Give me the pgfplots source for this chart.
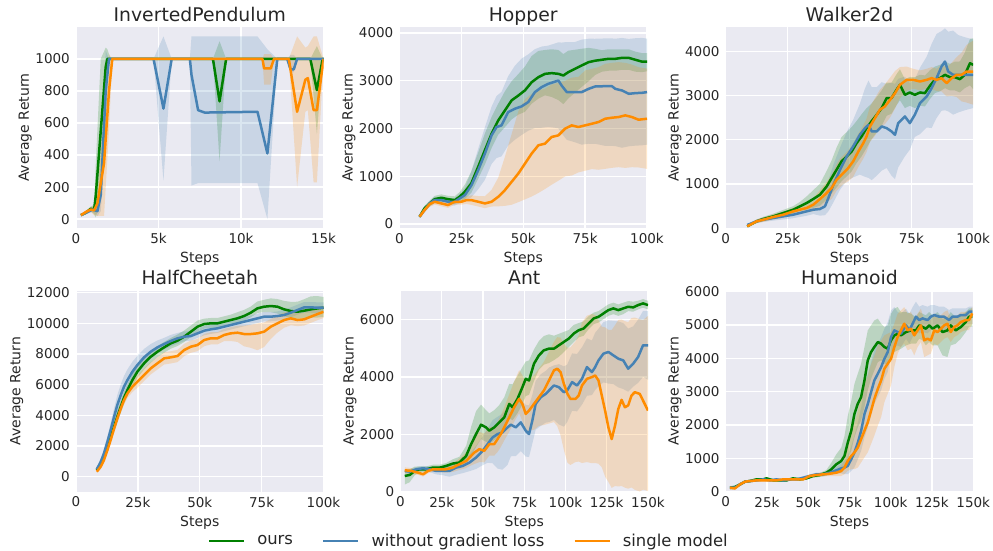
\documentclass[border=0pt]{standalone}
\usepackage{fontspec}
\setmainfont{DejaVu Sans}
\usepackage{pgfplots}
\usepackage{pgfplotstable}
\pgfplotsset{compat=1.18}
\definecolor{sbbg}{RGB}{234,234,242}
\definecolor{sbtext}{RGB}{38,38,38}
\definecolor{cgreen}{RGB}{0,128,0}
\definecolor{cblue}{RGB}{70,130,180}
\definecolor{corange}{RGB}{255,140,0}

\pgfplotsset{
  sbstyle/.style={
    scale only axis, width=247.5pt, height=201pt,
    axis background/.style={fill=sbbg},
    axis line style={draw=none},
    tick style={draw=none},
    major tick length=0pt,
    grid=major,
    major grid style={white, line width=1.4pt},
    ticklabel style={font=\fontsize{13.5}{14}\selectfont, text=sbtext},
    /pgf/number format/assume math mode=true,
    /pgf/number format/1000 sep={},
    scaled ticks=false,
    title style={font=\fontsize{18.8}{20}\selectfont, text=sbtext, at={(0.5,1)}, anchor=base, yshift=0pt},
    label style={font=\fontsize{14}{15}\selectfont, text=sbtext},
    xlabel style={yshift=-5pt},
    xlabel={Steps}, ylabel={Average Return},
    xticklabel style={inner sep=0pt, anchor=north, yshift=-5pt},
    yticklabel style={inner sep=0pt, anchor=east, xshift=-6pt},
  }
}
% build a closed polygon table: upper edge forward, lower edge backward
\newcommand{\mkpoly}[2]{%
  \pgfplotstablesort[sort key=x, sort cmp=float <]{#2}{#1}%
  \pgfplotstablecreatecol[expr={\thisrow{y}+\thisrow{du}}]{yb}{#2}%
  \pgfplotstablesort[sort key=x, sort cmp=float >]{\tmpR}{#1}%
  \pgfplotstablecreatecol[expr={\thisrow{y}-\thisrow{dl}}]{yb}{\tmpR}%
  \pgfplotstablevertcat{#2}{\tmpR}%
}
\newcommand{\band}[2]{\addplot[fill=#2, fill opacity=0.2, draw=none, forget plot] table[x=x, y=yb] {#1};}
\newcommand{\curve}[2]{\addplot[#2, line width=2.5pt, forget plot, line join=round] table[x=x,y=y] {#1};}

% ---------------- InvertedPendulum
\pgfplotstableread{
x y dl du
0.3 25 5 5
0.6 40 10 10
0.9 65 15 15
1.1 60 30 30
1.2 150 140 200
1.5 550 400 450
1.8 950 400 120
1.9 1000 100 60
2.1 1000 0 0
8.3 1000 0 0
8.7 735 375 375
9.1 1000 0 0
14.2 1000 0 0
14.6 805 275 275
14.95 1000 0 0
15 1000 0 0
}\ipG
\pgfplotstableread{
x y dl du
0.3 25 5 5
0.6 40 10 10
1.0 60 15 15
1.3 50 30 30
1.5 150 100 100
1.8 800 300 250
2.0 1000 0 0
4.7 1000 0 0
5.3 690 450 450
5.8 1000 0 0
6.9 1000 0 0
7.0 900 690 240
7.4 680 455 460
7.8 665 440 475
11.0 670 445 470
11.6 410 410 650
12.2 1000 0 0
12.8 1000 0 0
13.0 935 20 90
13.2 935 20 90
13.4 1000 0 0
15 1000 0 0
}\ipB
\pgfplotstableread{
x y dl du
0.3 25 5 5
0.6 45 10 10
0.9 60 15 15
1.1 55 30 30
1.3 100 80 80
1.7 350 330 300
2.0 800 250 230
2.2 1000 0 0
11.3 1000 0 0
11.4 940 100 90
11.8 940 100 90
12.0 1000 0 0
12.9 1000 0 0
13.4 670 470 470
13.9 870 200 200
14.05 880 200 200
14.4 680 450 460
14.6 680 450 460
15 1000 0 0
}\ipO

% ---------------- Hopper
\pgfplotstableread{
x y dl du
8.1 153 30 30
10.1 327 50 50
12.2 430 60 60
14.2 520 70 70
16.9 550 70 70
19.6 520 70 70
22.3 500 80 80
24.3 570 100 100
26.4 675 150 150
29.0 850 200 250
31.8 1200 250 300
34.5 1545 300 350
37.2 1890 300 350
39.9 2170 300 350
42.6 2380 350 400
45.3 2590 400 400
48.0 2690 400 450
50.7 2800 450 500
53.4 2970 450 550
56.1 3075 450 550
58.8 3145 450 500
61.5 3160 500 500
64.2 3145 550 500
66.2 3110 600 450
68.2 3180 550 450
70.9 3250 500 400
73.6 3320 450 350
76.4 3390 400 300
79.0 3420 300 250
81.8 3440 250 200
84.5 3460 250 200
87.2 3460 250 200
89.9 3480 250 180
92.6 3480 250 180
95.3 3440 250 170
98.0 3400 220 180
100 3400 200 180
}\hoG
\pgfplotstableread{
x y dl du
8.1 153 30 30
10.1 292 50 50
12.2 430 60 60
14.2 500 70 70
16.9 500 70 70
19.6 466 70 70
22.3 466 80 80
24.3 535 100 100
26.4 605 120 150
29.1 814 250 300
31.8 1127 400 450
34.5 1475 550 550
37.2 1857 600 600
39.2 2031 650 650
41.2 2066 650 700
43.9 2344 700 750
46.6 2414 650 900
49.3 2463 600 1000
52.0 2553 600 1000
54.7 2762 750 900
57.4 2866 850 850
60.1 2936 900 800
64.2 3005 1000 800
65.5 2900 1000 900
67.6 2762 1000 1050
70.9 2762 1050 1050
73.6 2762 1100 1100
76.4 2831 1150 1050
79.0 2880 1200 1000
83.1 2887 1250 1000
85.8 2887 1250 1000
87.2 2831 1200 1050
89.9 2797 1200 1100
92.6 2727 1100 1150
95.3 2741 1100 1150
98.0 2748 1100 1150
100 2762 1100 1120
}\hoB
\pgfplotstableread{
x y dl du
8.1 153 30 30
10.1 292 50 50
12.2 417 60 60
14.2 466 60 60
16.9 431 60 60
19.6 397 60 60
22.3 466 60 60
25 466 60 60
27 500 80 80
29.1 500 100 100
31.8 466 100 120
34.5 431 100 150
37.2 466 100 250
39.9 570 200 400
42.6 710 330 700
45.3 883 480 1000
48.0 1057 600 1300
50.7 1266 750 1350
53.4 1475 900 1250
56.1 1649 1000 1150
58.8 1683 950 1150
61.5 1823 1000 1100
64.2 1857 950 1100
66.9 1997 1000 1000
69.6 2066 1050 1000
72.3 2031 950 1050
75 2066 950 1150
77.7 2100 950 1150
80.4 2136 1000 1150
83.1 2205 1050 1150
85.8 2226 1050 1150
88.5 2240 1050 1150
91.2 2275 1100 1100
93.9 2240 1050 1100
96.6 2184 1000 1100
100 2205 1050 1050
}\hoO

% ---------------- Walker2d
\pgfplotstableread{
x y dl du
8.7 45 20 20
12.5 158 40 40
15.2 210 50 50
19.2 270 60 60
23.3 346 70 70
27.3 421 80 80
30 496 100 100
32.7 571 150 150
35.4 662 200 200
38.1 760 250 250
40.8 947 300 350
42.8 1135 350 400
44.8 1323 400 500
46.8 1511 450 550
48.9 1624 450 550
50.9 1737 450 550
52.9 1925 450 500
54.9 2075 450 500
56.9 2263 450 450
58.9 2414 400 400
61 2564 400 400
63 2714 400 400
65 2940 400 350
67 2940 350 350
69 3128 350 350
70.4 3241 350 350
72.4 3015 300 350
74.4 3068 300 350
76.4 3015 300 400
78.5 3068 300 400
80.5 3053 300 400
82.5 3218 300 350
84.5 3353 300 300
86.5 3391 300 300
88.6 3466 300 300
90.6 3414 300 300
92.6 3414 300 350
94.6 3368 300 400
96.6 3466 300 500
98.7 3729 500 550
100 3692 550 600
}\waG
\pgfplotstableread{
x y dl du
8.7 75 20 20
12.5 158 40 40
15.2 195 50 50
19.2 233 60 60
23.3 271 70 70
27.3 308 80 80
30 346 90 90
32.7 383 100 100
35.4 421 100 150
38.1 436 150 200
40.1 496 200 300
41.5 684 300 400
43.5 985 400 450
46.2 1323 450 500
48.9 1624 550 550
51.5 1850 700 600
54.2 2113 900 700
56.3 2263 1100 900
57.7 2338 1200 1000
59 2188 1100 1000
61 2188 1000 1000
63 2301 1000 1000
65 2263 900 1000
67 2188 1000 1100
68.4 2113 1000 1150
69.7 2376 1000 1000
72.4 2526 900 900
74.4 2376 600 900
76.4 2564 500 800
78.5 2827 700 800
81.2 2977 700 900
83.2 3165 900 1000
85.2 3391 900 1000
87.2 3654 1000 800
88.6 3767 1100 750
89.9 3541 900 900
91.9 3466 900 1000
93.9 3466 850 900
96.6 3466 800 850
100 3466 750 800
}\waB
\pgfplotstableread{
x y dl du
8.7 45 20 20
12.5 158 40 40
15.2 195 50 50
19.2 256 60 60
23.3 308 70 70
27.3 383 80 80
30 421 100 100
32.7 459 100 100
35.4 534 150 150
38.1 662 200 200
40.8 797 200 250
42.8 910 250 300
44.8 1098 250 350
46.2 1173 250 400
47.5 1248 250 400
49.5 1361 300 400
51.5 1511 350 400
53.6 1737 350 400
55.6 1925 350 400
56.9 2075 350 400
58.3 2301 350 450
60.3 2489 400 450
62.3 2677 400 450
64.3 2752 400 500
66.4 2902 400 500
68.4 3053 350 500
70.4 3241 300 400
73.1 3353 250 300
75.8 3353 200 250
78.5 3316 200 250
81.2 3353 200 250
83.2 3391 250 250
85.2 3353 250 250
87.2 3391 300 300
89.3 3278 300 350
91.3 3391 400 350
93.3 3466 500 400
95.3 3466 600 500
97.3 3541 700 600
100 3541 750 700
}\waO

% ---------------- HalfCheetah
\pgfplotstableread{
x y dl du
8.4 435 100 100
10 870 150 150
11.3 1304 200 200
12.7 1957 250 250
14 2609 300 300
15.4 3261 350 350
16.7 3913 400 400
18.1 4565 400 400
19.4 5152 400 400
20.8 5652 400 400
22.8 6304 400 400
24.8 6848 400 400
27.5 7391 400 400
30.2 7826 400 400
32.9 8152 350 350
35.6 8435 350 350
38.3 8696 350 350
41 8870 350 400
43.7 9130 350 400
46.4 9457 350 400
49.1 9783 350 400
51.8 9957 300 350
54.4 10000 300 350
57.1 10000 300 350
59.8 10109 300 350
62.5 10217 300 350
65.2 10326 300 400
67.9 10478 300 400
70.6 10696 300 400
73.3 10978 300 450
76 11087 350 450
78.7 11130 400 500
81.4 11087 450 500
84.1 10913 450 550
86.8 10804 450 600
89.5 10761 450 650
92.2 10826 500 750
94.9 10913 550 850
97.6 10978 600 800
100 11022 600 700
}\hcG
\pgfplotstableread{
x y dl du
8.4 478 100 100
10 978 150 150
11.3 1522 250 250
12.7 2283 350 350
14 3043 450 450
15.4 3913 550 550
16.7 4674 600 650
18.1 5326 650 700
19.4 5870 650 700
20.8 6304 650 700
22.8 6848 600 650
24.8 7283 550 600
27.5 7783 500 550
30.2 8152 450 500
32.9 8435 400 450
35.6 8652 350 400
38.3 8848 350 400
41 9022 350 350
43.7 9130 300 350
46.4 9174 300 300
49.1 9348 300 300
51.8 9522 300 300
54.4 9609 300 300
57.1 9674 300 300
59.8 9783 300 300
62.5 9891 300 300
65.2 10000 300 300
67.9 10109 300 300
70.6 10217 300 300
73.3 10326 300 300
76 10435 300 300
78.7 10435 300 300
81.4 10478 300 300
84.1 10543 300 350
86.8 10696 300 350
89.5 10870 300 350
92.2 11043 350 350
94.9 11043 350 350
97.6 11022 350 350
100 11022 350 350
}\hcB
\pgfplotstableread{
x y dl du
8.4 326 80 80
10 652 120 120
11.3 1087 150 150
12.7 1739 200 200
14 2391 250 250
15.4 3152 300 300
16.7 3804 300 300
18.1 4457 300 300
19.4 5000 300 300
20.8 5435 300 300
22.8 5870 350 350
24.8 6196 400 400
27.5 6630 400 400
30.2 7065 400 400
32.9 7391 400 400
35.6 7717 400 400
38.3 7783 400 400
41 7870 400 400
43.7 8261 400 400
46.4 8478 400 400
49.1 8587 400 400
51.8 8913 400 400
54.4 9022 400 400
57.1 9022 400 400
59.8 9239 400 400
62.5 9348 500 400
65.2 9391 600 450
67.9 9304 800 550
70.6 9304 900 600
73.3 9348 1100 650
76 9457 1000 600
78.7 9783 800 500
81.4 10000 600 500
84.1 10217 500 500
86.8 10326 450 450
89.5 10217 400 450
92.2 10261 400 450
94.9 10435 400 400
97.6 10609 400 400
100 10750 400 400
}\hcO

% ---------------- Ant
\pgfplotstableread{
x y dl du
2.6 548 300 200
5.6 583 250 200
8.6 723 150 150
11.6 782 100 100
15.7 782 100 100
19.7 840 100 100
23.7 840 100 100
27.7 898 100 100
31.7 980 150 150
35.7 1015 200 200
39.8 1248 300 350
42.8 1657 400 600
45.8 2007 450 800
48.8 2334 500 700
51.8 2240 500 600
53.8 2124 450 600
56.8 2240 450 600
59.8 2415 450 600
62.9 2590 450 700
65.9 3057 500 700
67.9 2940 450 800
70.9 3232 500 800
73.9 3641 600 700
75.9 3932 600 600
77.9 3874 500 700
80.9 4457 600 500
83.9 4749 500 500
86.9 4924 500 500
90 4982 500 500
93 4982 400 450
96 5099 400 400
99 5216 350 350
102 5333 300 300
105 5508 300 300
108 5624 250 250
111 5683 250 250
114 5858 200 250
117 6033 200 200
120 6091 200 200
123 6208 200 200
126 6324 200 200
129 6383 200 200
132 6324 200 200
135 6383 200 200
138 6441 150 200
141 6418 150 200
144 6499 150 150
147 6558 150 150
150 6499 150 150
}\anG
\pgfplotstableread{
x y dl du
2.6 723 50 50
5.6 700 80 80
9.6 782 80 80
13.7 817 80 80
17.7 782 100 100
21.7 723 120 120
25.7 723 150 150
29.7 723 200 200
33.7 840 250 200
37.8 898 250 250
41.8 1015 300 300
45.8 1190 400 400
49.8 1424 500 500
52.8 1657 650 550
55.8 1890 900 600
58.8 2007 1200 600
61.8 2065 1300 650
64.9 2240 1300 700
66.9 2334 1100 700
69.9 2240 1000 800
72.9 2415 1000 800
75.9 2124 900 900
77.9 2007 800 1000
79.9 2474 800 900
81.9 3057 900 800
85 3290 1000 800
88 3407 1000 800
90 3524 1100 800
93 3699 1200 700
96 3641 1300 800
99 3466 1200 900
101 3524 1100 900
104 3816 1000 1000
107 3699 900 1100
110 3932 900 1100
113 4341 1000 1000
116 4166 800 1100
118 4341 800 1200
120 4574 900 1100
123 4807 1000 1100
126 4866 1100 1100
129 4749 1000 1200
132 4632 1000 1300
135 4574 1000 1300
138 4282 800 1400
141 4457 800 1300
144 4691 900 1300
147 5099 1100 1200
150 5099 1200 1200
}\anB
\pgfplotstableread{
x y dl du
2.6 747 100 100
6.6 723 100 100
10.6 665 80 80
13.7 607 80 80
16.7 723 80 80
19.7 782 80 80
23.7 782 100 100
27.7 782 120 120
31.7 840 150 150
35.7 957 200 200
39.8 1073 250 300
41.8 1190 300 400
44.8 1365 400 500
47.8 1482 450 600
50.8 1424 400 600
53.8 1657 400 600
56.8 1657 400 600
58.8 1832 450 600
60.8 2007 450 650
62.9 2240 450 700
65.9 2590 500 800
68.9 2940 500 900
71.9 3232 500 1000
73.9 3057 600 1000
75.9 2707 600 1100
77.9 2824 700 1100
80.9 3057 900 1000
83.9 3290 1000 1000
86.9 3524 1200 1000
90 3874 1500 1000
93 4224 1800 1000
95 4282 2000 1100
97 4166 2200 1200
99 3757 2300 1400
101.2 3407 2400 1600
103 3232 2300 1800
106 3232 2200 2000
108 3349 2300 2100
110 3699 2700 2200
113 3932 2900 2200
116 3991 3000 2200
118 4049 3050 2100
120 3874 2900 2100
122 3349 2500 2400
124 2824 2300 2900
126 2240 1900 3400
128 1832 1700 3800
130 2299 2100 3500
132 2882 2700 3100
134 3199 3000 2800
136 2940 2800 3000
138 3007 2900 2900
140 3349 3200 2700
142 3466 3400 2600
145 3407 3400 2600
147 3174 3100 2800
150 2824 2800 3300
}\anO

% ---------------- Humanoid
\pgfplotstableread{
x y dl du
2.6 120 50 50
5.6 140 50 50
8.7 220 40 40
11.7 300 40 40
14.7 320 40 40
18.7 370 40 40
22.7 370 40 40
24.7 400 40 40
28.8 340 40 40
32.8 340 40 40
36.8 340 40 40
40.8 400 40 40
44.9 370 40 40
48.9 400 40 40
52.9 470 50 50
56.9 500 60 60
61 570 80 80
64 670 150 200
67 820 250 300
70 920 300 400
72 1075 350 600
74 1475 500 800
76.1 1830 600 900
78 2330 700 900
80 2630 700 900
82 2830 700 1000
84.1 3340 800 1000
86.1 3940 900 900
88.1 4190 800 800
90.1 4340 700 800
92.2 4490 600 700
94.2 4440 500 600
96.2 4340 500 600
98.2 4290 500 700
100.2 4540 500 800
102.2 4690 500 800
104.2 4740 500 800
106.2 4690 400 700
109.3 4790 400 600
112.3 4840 400 500
115.3 4840 400 400
117.3 4990 400 400
119.3 4940 400 400
121.3 4890 500 400
123.3 4990 500 400
125.4 4890 500 400
128.4 4990 600 400
131.4 4790 700 400
134.4 4840 800 400
136.4 4990 600 400
139.4 4840 400 400
142.5 4940 350 350
145.5 5090 300 300
147.5 5250 300 250
149.5 5250 300 250
}\huG
\pgfplotstableread{
x y dl du
2.6 120 50 50
5.6 120 50 50
8.7 220 40 40
11.7 300 40 40
14.7 320 40 40
18.7 340 40 40
22.7 370 40 40
26.8 340 40 40
30.8 370 40 40
34.8 340 40 40
38.8 370 40 40
42.9 370 40 40
46.9 420 40 40
50.9 470 50 50
54.9 520 50 50
59 520 60 60
63 570 70 70
67 640 100 100
70 700 150 150
72 725 200 200
74 775 250 300
76.1 975 350 400
78 1175 450 500
80.1 1475 500 600
82.1 1830 600 700
84.1 2330 700 800
86.1 2630 700 900
88.1 2985 700 900
90.1 3340 700 900
92.2 3540 700 900
94.2 3740 700 900
96.2 3990 600 900
98.2 4190 600 900
100.2 4640 500 800
102.2 4840 500 700
104.2 4790 400 600
106.2 4740 400 600
109.3 4990 400 500
111.3 4840 400 500
113.3 5040 400 500
115.3 5250 400 450
117.3 5150 400 400
119.3 5200 400 400
122.3 5150 400 400
124.3 5250 400 350
126.4 5300 350 300
129.4 5250 350 300
132.4 5250 400 300
135.4 5150 400 300
137.4 5250 350 250
140.4 5250 300 250
142.5 5300 250 200
145.5 5300 250 200
147.5 5400 200 150
149.5 5400 200 150
}\huB
\pgfplotstableread{
x y dl du
2.6 120 50 50
5.6 100 50 50
8.7 220 40 40
11.7 300 40 40
14.7 320 40 40
18.7 340 40 40
22.7 340 40 40
26.8 340 40 40
30.8 340 40 40
34.8 370 40 40
38.8 370 40 40
42.9 370 40 40
46.9 370 40 40
50.9 470 50 50
54.9 500 50 50
59 520 60 60
63 540 70 70
67 570 100 100
70 620 150 150
72 725 200 250
74 925 300 400
76.1 1075 400 700
78 1175 500 900
80.1 1325 600 1100
82.1 1580 700 1300
84.1 1830 800 1400
86.1 2080 900 1400
88.1 2430 1000 1400
90.1 2785 1100 1300
92.2 3085 1100 1300
94.2 3340 1100 1200
96.2 3690 1000 1000
98.2 3840 900 900
100.2 3990 800 800
102.2 4340 600 700
104.2 4640 500 700
106.2 4840 500 600
108.2 5040 600 500
110.3 4840 600 500
112.3 4890 600 500
114.3 4690 600 500
116.3 4840 500 500
118.3 4990 500 500
120.3 4540 500 600
122.3 4590 500 600
124.3 4540 400 600
126.4 4840 400 500
128.4 4790 400 500
130.4 4890 400 400
132.4 4990 400 400
134.4 5040 400 400
136.4 4790 300 400
138.5 4940 300 300
140.4 4990 300 300
142.5 5090 300 300
145.5 5150 300 250
147.5 5150 300 250
149.5 5350 300 200
}\huO

\mkpoly{\ipG}{\ipGp}\mkpoly{\ipB}{\ipBp}\mkpoly{\ipO}{\ipOp}
\mkpoly{\hoG}{\hoGp}\mkpoly{\hoB}{\hoBp}\mkpoly{\hoO}{\hoOp}
\mkpoly{\waG}{\waGp}\mkpoly{\waB}{\waBp}\mkpoly{\waO}{\waOp}
\mkpoly{\hcG}{\hcGp}\mkpoly{\hcB}{\hcBp}\mkpoly{\hcO}{\hcOp}
\mkpoly{\anG}{\anGp}\mkpoly{\anB}{\anBp}\mkpoly{\anO}{\anOp}
\mkpoly{\huG}{\huGp}\mkpoly{\huB}{\huBp}\mkpoly{\huO}{\huOp}

\begin{document}
\begin{tikzpicture}
\useasboundingbox (0,0) rectangle (993pt,550pt);

% InvertedPendulum
\begin{axis}[sbstyle, at={(76pt,321.7pt)}, anchor=south west,
  title={InvertedPendulum}, xmin=0, xmax=15, ymin=-57, ymax=1197,
  xtick={0,5,10,15}, xticklabels={0,5k,10k,15k}, ytick={0,200,...,1000}]
\band{\ipGp}{cgreen}\band{\ipBp}{cblue}\band{\ipOp}{corange}
\curve{\ipG}{cgreen}\curve{\ipB}{cblue}\curve{\ipO}{corange}
\end{axis}

% Hopper
\begin{axis}[sbstyle, at={(399.5pt,321.7pt)}, anchor=south west,
  title={Hopper}, xmin=0, xmax=100, ymin=-90, ymax=4120,
  xtick={0,25,50,75,100}, xticklabels={0,25k,50k,75k,100k}, ytick={0,1000,...,4000}]
\band{\hoGp}{cgreen}\band{\hoBp}{cblue}\band{\hoOp}{corange}
\curve{\hoG}{cgreen}\curve{\hoB}{cblue}\curve{\hoO}{corange}
\end{axis}

% Walker2d
\begin{axis}[sbstyle, at={(725.7pt,321.7pt)}, anchor=south west,
  title={Walker2d}, xmin=0, xmax=100, ymin=0, ymax=4540,
  xtick={0,25,50,75,100}, xticklabels={0,25k,50k,75k,100k}, ytick={0,1000,...,4000}]
\band{\waGp}{cgreen}\band{\waBp}{cblue}\band{\waOp}{corange}
\curve{\waG}{cgreen}\curve{\waB}{cblue}\curve{\waO}{corange}
\end{axis}

% HalfCheetah
\begin{axis}[sbstyle, at={(76pt,58.3pt)}, anchor=south west,
  title={HalfCheetah}, xmin=0, xmax=100, ymin=-980, ymax=12130,
  xtick={0,25,50,75,100}, xticklabels={0,25k,50k,75k,100k}, ytick={0,2000,...,12000}]
\band{\hcGp}{cgreen}\band{\hcBp}{cblue}\band{\hcOp}{corange}
\curve{\hcG}{cgreen}\curve{\hcB}{cblue}\curve{\hcO}{corange}
\end{axis}

% Ant
\begin{axis}[sbstyle, at={(400.5pt,58.3pt)}, anchor=south west,
  title={Ant}, xmin=0, xmax=150, ymin=0, ymax=7000,
  xtick={0,25,50,75,100,125,150}, xticklabels={0,25k,50k,75k,100k,125k,150k}, ytick={0,2000,4000,6000},
  legend style={at={(0.2757,-0.245)}, anchor=center, draw=none, fill=none,
    font=\fontsize{16.4}{17}\selectfont, text=sbtext, legend columns=3,
    /tikz/every even column/.append style={column sep=27pt}},
  legend image code/.code={\draw[#1] (0pt,0pt) -- (35pt,0pt); \path (45pt,0pt);}]
\band{\anGp}{cgreen}\band{\anBp}{cblue}\band{\anOp}{corange}
\curve{\anG}{cgreen}\curve{\anB}{cblue}\curve{\anO}{corange}
\addlegendimage{cgreen, line width=2.5pt}\addlegendentry{ours}
\addlegendimage{cblue, line width=2.5pt}\addlegendentry{without gradient loss}
\addlegendimage{corange, line width=2.5pt}\addlegendentry{single model}
\end{axis}

% Humanoid
\begin{axis}[sbstyle, at={(725.7pt,58.3pt)}, anchor=south west,
  title={Humanoid}, xmin=0, xmax=150, ymin=0, ymax=6030,
  xtick={0,25,50,75,100,125,150}, xticklabels={0,25k,50k,75k,100k,125k,150k}, ytick={0,1000,...,6000}]
\band{\huGp}{cgreen}\band{\huBp}{cblue}\band{\huOp}{corange}
\curve{\huG}{cgreen}\curve{\huB}{cblue}\curve{\huO}{corange}
\end{axis}
\end{tikzpicture}
\end{document}
